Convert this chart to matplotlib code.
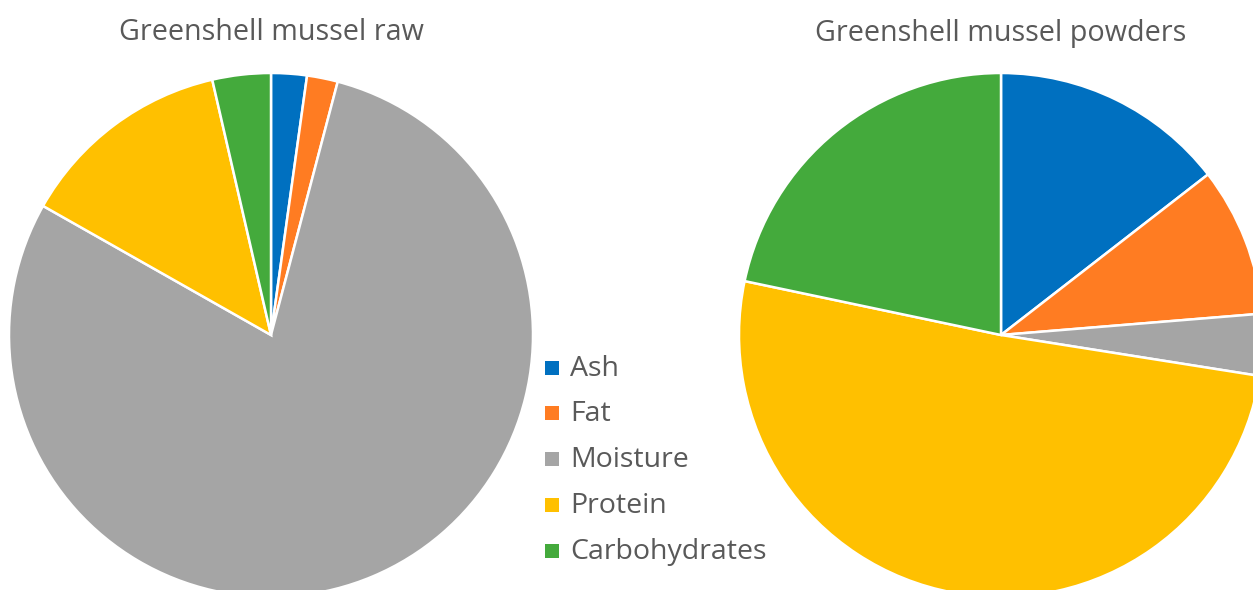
import matplotlib
matplotlib.use("Agg")
import matplotlib.pyplot as plt
from matplotlib.patches import Rectangle

categories = ["Ash", "Fat", "Moisture", "Protein", "Carbohydrates"]
raw_values = [2.2, 1.9, 79.1, 13.2, 3.6]
powder_values = [14.5, 9.2, 3.8, 50.8, 21.7]
titles = ["Greenshell mussel raw", "Greenshell mussel powders"]
colors = ["#0070C0", "#FF7C22", "#A5A5A5", "#FFC000", "#44AA3C"]

W, H = 1253, 590
fig = plt.figure(figsize=(W / 100, H / 100), dpi=100)
plt.rcParams['font.family'] = ['Open Sans', 'DejaVu Sans']
text_color = "#595959"

R = 262
centers = [(271, 335), (1001, 335)]
for (cx, cy), vals, title in zip(centers, [raw_values, powder_values], titles):
    ax = fig.add_axes([(cx - R) / W, (H - cy - R) / H, 2 * R / W, 2 * R / H])
    ax.pie(vals, colors=colors, startangle=90, counterclock=False, radius=1,
           wedgeprops=dict(edgecolor="white", linewidth=1.8))
    ax.set_xlim(-1, 1)
    ax.set_ylim(-1, 1)
    ax.set_aspect("equal")
    ax.axis("off")
    fig.text(cx / W, (H - 33) / H, title, ha="center", va="center",
             fontsize=20.7, color=text_color)

# Legend
ys = [368, 413, 459, 505, 551]
for lab, col, y in zip(categories, colors, ys):
    fig.add_artist(Rectangle(((545) / W, (H - y - 7) / H), 14 / W, 14 / H,
                             transform=fig.transFigure, facecolor=col,
                             edgecolor="none"))
    fig.text(570 / W, (H - y - 1) / H, lab, ha="left", va="center",
             fontsize=20.5, color=text_color)

fig.savefig("out.png", dpi=100)
